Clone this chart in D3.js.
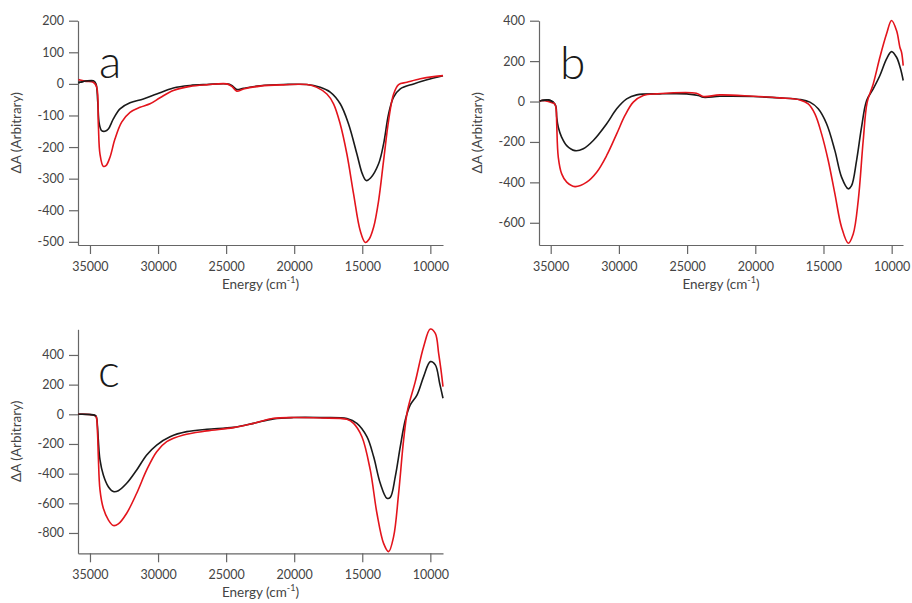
<!DOCTYPE html>
<html><head><meta charset="utf-8">
<script src="https://cdn.jsdelivr.net/npm/d3@7/dist/d3.min.js"></script>
<style>
body{margin:0;background:#fff;}
svg text{font-family:Lato,"DejaVu Sans",sans-serif;fill:#444;}
</style></head>
<body>
<svg id="chart" width="912" height="603"></svg>
<script>
// ---- data: [energy (cm^-1), ΔA] ----
const xTicks = [35000, 30000, 25000, 20000, 15000, 10000];
const aYTicks = [-500, -400, -300, -200, -100, 0, 100, 200];
const bYTicks = [-600, -400, -200, 0, 200, 400];
const cYTicks = [-800, -600, -400, -200, 0, 200, 400];

const aBlack = [[35850,4],[35735,5],[35300,9],[34755,10],[34560,0],[34436,-53],[34314,-127],[34142,-148],[33897,-150],[33652,-143],[33284,-111],[32794,-79],[32059,-60],[31080,-48],[30100,-32],[28875,-13],[27647,-5],[26422,-2],[24950,0],[24583,-5],[24216,-18],[23726,-14],[22500,-6],[20785,-2],[19070,-2],[18090,-11],[17355,-26],[16620,-63],[16007,-127],[15394,-222],[14994,-285],[14706,-306],[14391,-298],[13801,-253],[13434,-190],[13066,-95],[12698,-42],[12208,-16],[11228,0],[10248,13],[9070,26]];
const aRed = [[35850,14],[35735,12],[35300,8],[34755,5],[34510,-10],[34387,-127],[34265,-222],[34020,-261],[33825,-259],[33530,-232],[33162,-174],[32672,-121],[32059,-90],[31324,-74],[30590,-63],[29855,-44],[28875,-21],[27647,-8],[26422,-3],[24950,0],[24583,-8],[24216,-23],[23726,-16],[22500,-7],[20785,-3],[19070,-2],[18335,-11],[17600,-32],[17110,-63],[16620,-127],[16130,-222],[15639,-348],[15149,-465],[14779,-502],[14500,-492],[14168,-454],[13801,-370],[13434,-243],[13066,-116],[12698,-32],[12330,-2],[11718,5],[10738,16],[9758,23],[9070,26]];

const bBlack = [[35800,3],[35660,5],[35176,8],[34809,-3],[34620,-25],[34560,-77],[34443,-127],[34194,-177],[33827,-218],[33219,-243],[32610,-234],[31877,-193],[30895,-110],[30162,-36],[29430,13],[28700,33],[26988,38],[25033,38],[24180,30],[23814,21],[22592,26],[20150,25],[18195,18],[16729,10],[15996,-3],[15385,-36],[14774,-110],[14163,-243],[13675,-374],[13186,-432],[12942,-416],[12575,-292],[12209,-127],[11836,5],[11353,63],[10864,129],[10375,211],[10009,247],[9643,219],[9350,162],[9155,104]];
const bRed = [[35800,3],[35660,5],[35176,0],[34700,-12],[34600,-40],[34560,-110],[34443,-276],[34194,-358],[33827,-399],[33219,-421],[32361,-399],[31628,-350],[30895,-267],[30162,-160],[29554,-69],[28945,-3],[28212,30],[27235,38],[24324,41],[23814,25],[22592,33],[20150,26],[18195,18],[16729,8],[16118,-12],[15629,-61],[15140,-160],[14652,-292],[14163,-457],[13675,-622],[13186,-701],[12820,-655],[12453,-490],[12087,-193],[11794,-3],[11353,87],[10864,219],[10375,335],[10009,401],[9643,351],[9399,269],[9277,244],[9155,178]];

const cBlack = [[35850,0],[35735,0],[34755,-4],[34560,-12],[34450,-80],[34387,-173],[34265,-308],[34020,-409],[33652,-488],[33284,-521],[32917,-515],[32304,-465],[31569,-375],[30834,-274],[30100,-207],[29119,-151],[27894,-117],[26422,-101],[24461,-88],[22990,-61],[21520,-31],[20049,-22],[18090,-22],[16129,-29],[15394,-61],[14659,-151],[14168,-285],[13678,-465],[13188,-566],[12943,-560],[12575,-420],[12208,-218],[11840,-38],[11473,63],[10983,130],[10493,254],[10003,355],[9635,333],[9317,209],[9070,108]];
const cRed = [[35850,0],[35735,0],[34755,-4],[34560,-15],[34450,-120],[34387,-285],[34265,-510],[34020,-634],[33652,-712],[33284,-750],[32917,-739],[32304,-667],[31569,-532],[30834,-375],[30100,-252],[29364,-184],[28139,-139],[26422,-112],[24461,-90],[22990,-61],[21520,-27],[20049,-22],[18090,-25],[16129,-34],[15639,-61],[15026,-151],[14413,-375],[13923,-667],[13433,-870],[13066,-926],[12698,-825],[12330,-533],[11963,-173],[11669,29],[11106,220],[10493,456],[10003,575],[9635,546],[9390,411],[9218,299],[9070,186]];

const panels = [
  {label:"a", black:aBlack, red:aRed, yTicks:aYTicks, xDom:[35880,9070], xR:[78,443], yDom:[-510,200], yR:[245,20.7], lx:99, ly:78},
  {label:"b", black:bBlack, red:bRed, yTicks:bYTicks, xDom:[35858,9170], xR:[539,903], yDom:[-710,400], yR:[245,20.7], lx:560, ly:79},
  {label:"c", black:cBlack, red:cRed, yTicks:cYTicks, xDom:[35880,9070], xR:[78,443], yDom:[-937,573], yR:[553.3,329.3], lx:98, ly:387}
];

const svg = d3.select("#chart");
const fmt = d => String(d);

panels.forEach(p => {
  const x = d3.scaleLinear().domain(p.xDom).range(p.xR);
  const y = d3.scaleLinear().domain(p.yDom).range(p.yR);
  const g = svg.append("g");

  const xa = g.append("g").attr("transform",`translate(0,${p.yR[0]})`)
    .call(d3.axisBottom(x).tickValues(xTicks).tickFormat(fmt).tickSize(9).tickSizeOuter(0).tickPadding(8));
  const ya = g.append("g").attr("transform",`translate(${p.xR[0]},0)`)
    .call(d3.axisLeft(y).tickValues(p.yTicks).tickFormat(fmt).tickSize(9).tickSizeOuter(0).tickPadding(5));
  [xa, ya].forEach(a => {
    a.selectAll("path,line").attr("stroke","#666").attr("stroke-width",1.2);
    a.selectAll("text").attr("font-size",12.5).attr("fill","#444").attr("font-family","Lato, DejaVu Sans, sans-serif");
  });

  const line = d3.line().x(d => x(d[0])).y(d => y(d[1])).curve(d3.curveCatmullRom.alpha(0.5));
  g.append("path").datum(p.black).attr("d",line).attr("fill","none").attr("stroke","#1a1a1a").attr("stroke-width",1.6);
  g.append("path").datum(p.red).attr("d",line).attr("fill","none").attr("stroke","#e3141c").attr("stroke-width",1.6);
  g.append("path").datum(p.black.slice(0,4)).attr("d",line).attr("fill","none").attr("stroke","#1a1a1a").attr("stroke-width",1.6);

  const cx = (p.xR[0]+p.xR[1])/2;
  const xl = g.append("text").attr("x",cx).attr("y",p.yR[0]+44).attr("text-anchor","middle").attr("font-size",13.5);
  xl.append("tspan").text("Energy (cm");
  xl.append("tspan").attr("dy",-6).attr("font-size",9).text("-1");
  xl.append("tspan").attr("dy",6).text(")");

  const cy = (p.yR[0]+p.yR[1])/2;
  g.append("text").attr("transform",`translate(${p.xR[0]-57},${cy}) rotate(-90)`)
    .attr("text-anchor","middle").attr("font-size",13.5).text("ΔA (Arbitrary)");

  g.append("text").attr("x",p.lx).attr("y",p.ly).attr("font-size",46).attr("font-weight",300)
    .attr("fill","#1a1a1a").style("fill","#1a1a1a").text(p.label);
});
</script>
</body></html>
